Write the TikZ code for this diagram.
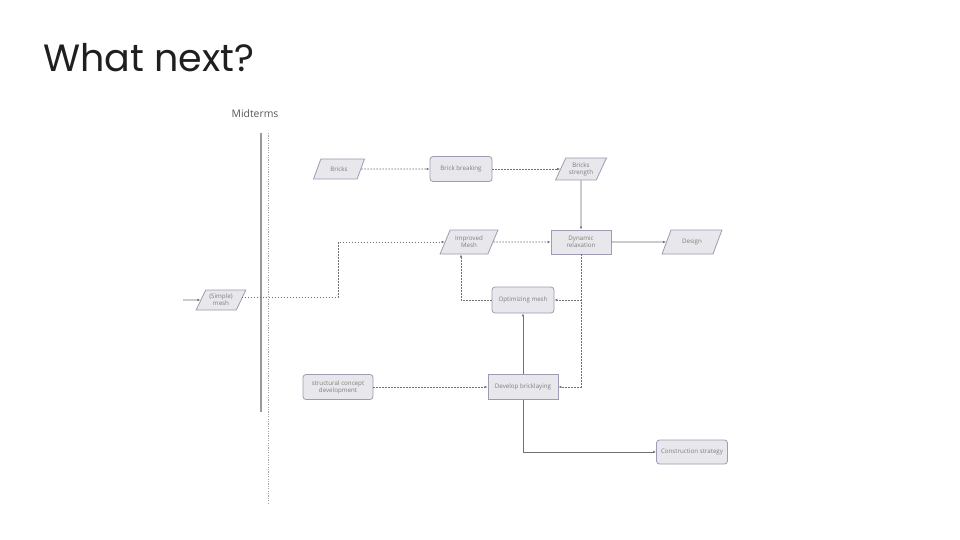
\documentclass[tikz,border=0pt]{standalone}
\usepackage{fontspec}
\setmainfont{Poppins}
\setsansfont{Open Sans}
\usepackage{xcolor}
\usetikzlibrary{arrows.meta,shapes.geometric}
\definecolor{BoxFill}{HTML}{E7E7EC}
\definecolor{BoxLine}{HTML}{9C9CB4}
\definecolor{BoxText}{HTML}{808080}
\definecolor{FlowLine}{HTML}{707070}
\tikzset{
  plan data/.style={
    trapezium, trapezium left angle=60, trapezium right angle=120,
    trapezium stretches=true, fill=BoxFill, draw=BoxLine, line width=0.8pt,
    font=\sffamily\fontsize{6.2}{7}\selectfont, text=BoxText, align=center,
    inner sep=1pt
  },
  plan proc/.style={
    rectangle, rounded corners=3pt, fill=BoxFill, draw=BoxLine, line width=0.8pt,
    font=\sffamily\fontsize{6.2}{7}\selectfont, text=BoxText, align=center,
    inner sep=1pt
  },
  plan task/.style={plan proc, rounded corners=0pt},
  plan flow/.style={-{Latex[length=3pt,width=2.4pt]}, FlowLine, line width=0.6pt,
    dash pattern=on 1.6pt off 1.4pt},
  plan link/.style={-{Latex[length=3pt,width=2.4pt]}, FlowLine, line width=0.7pt}
}
\begin{document}
\begin{tikzpicture}[x=1pt, y=-1pt]
  \useasboundingbox (0,0) rectangle (960,540);
  \fill[white] (0,0) rectangle (960,540);

  \node[anchor=base west, font=\fontsize{38}{42}\selectfont, text=black!88, inner sep=0pt] (title) at (43,72) {What next?};
  \node[font=\sffamily\fontsize{10.4}{12}\selectfont, text=black!65] (midterms) at (255,114) {Midterms};

  % midterm separator
  \draw[black!40, line width=1.2pt] (261,133) -- (261,412);
  \draw[black!35, line width=0.6pt, dash pattern=on 1.2pt off 1.2pt] (268,133) -- (268,505);

  % nodes
  \node[plan data, minimum width=50, minimum height=20] (mesh) at (221,300) {(Simple)\\mesh};
  \node[plan data, minimum width=51, minimum height=20] (bricks) at (339,169) {Bricks};
  \node[plan proc, minimum width=62, minimum height=25] (breaking) at (461,169) {Brick breaking};
  \node[plan data, minimum width=51, minimum height=22] (strength) at (581,169) {Bricks\\strength};
  \node[plan data, minimum width=58, minimum height=24] (improved) at (469,242) {Improved\\Mesh};
  \node[plan task, minimum width=60, minimum height=24] (dynamic) at (581,242) {Dynamic\\relaxation};
  \node[plan data, minimum width=60, minimum height=24] (design) at (692,242) {Design};
  \node[plan proc, minimum width=62, minimum height=26] (optimizing) at (523,300) {Optimizing mesh};
  \node[plan proc, minimum width=70, minimum height=25] (concept) at (338,387) {structural concept\\development};
  \node[plan task, minimum width=70, minimum height=25] (bricklaying) at (523,387) {Develop bricklaying};
  \node[plan proc, minimum width=71, minimum height=24] (strategy) at (692,452) {Construction strategy};

  \coordinate (meshin) at (183,300);

  % connectors
  \draw[plan link] (meshin) -- (mesh);
  \draw[plan flow] ([yshift=3]mesh.east) -- ++(97,0) |- (improved.west);
  \draw[plan flow] (bricks) -- (breaking);
  \draw[plan flow] (breaking) -- (strength);
  \draw[plan link] (strength) -- (dynamic);
  \draw[plan flow] (improved) -- (dynamic);
  \draw[plan link] (dynamic) -- (design);
  \draw[plan flow] (dynamic.south) |- (optimizing.east);
  \draw[plan flow] (dynamic.south) |- (bricklaying.east);
  \draw[plan flow] (optimizing.west) -| ([xshift=-8]improved.south);
  \draw[plan link] (bricklaying) -- (optimizing);
  \draw[plan flow] (concept) -- (bricklaying);
  \draw[plan link] (bricklaying.south) |- (strategy.west);
\end{tikzpicture}
\end{document}
